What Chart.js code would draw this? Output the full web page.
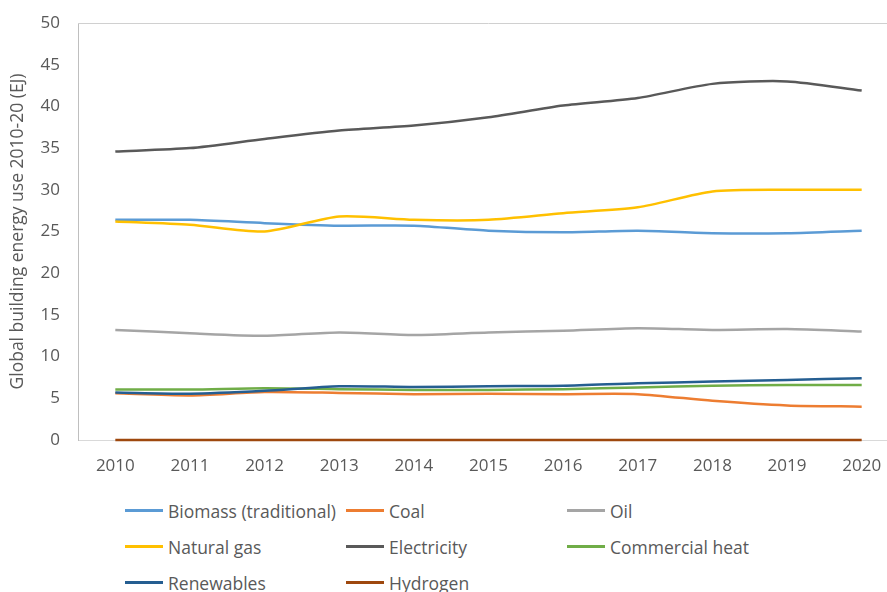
<!DOCTYPE html>
<html>
<head>
<meta charset="utf-8">
<script src="https://cdn.jsdelivr.net/npm/chart.js@4"></script>
<style>
  html, body { margin: 0; padding: 0; background: #fff; overflow: hidden; }
  body { width: 887px; height: 592px; position: relative; }
  #wrap { position: absolute; left: 0; top: 0; width: 900px; height: 480px; }
  #legend {
    position: absolute; left: 125px; top: 499px;
    display: grid; grid-template-columns: 221px 221px 221px; row-gap: 13px;
    font-family: "Open Sans", sans-serif; font-size: 17.5px; color: #595959;
  }
  #legend .item { display: flex; align-items: center; height: 23px; white-space: nowrap; }
  #legend .swatch { width: 38px; height: 3px; margin-right: 5px; }
</style>
</head>
<body>
<div id="wrap"><canvas id="energyChart"></canvas></div>
<div id="legend"></div>
<script>
const years = ['2010', '2011', '2012', '2013', '2014', '2015', '2016', '2017', '2018', '2019', '2020'];

const biomass = [26.4, 26.4, 26.0, 25.7, 25.7, 25.1, 24.9, 25.1, 24.8, 24.8, 25.1];
const coal = [5.6, 5.35, 5.75, 5.65, 5.5, 5.55, 5.5, 5.5, 4.7, 4.15, 4.0];
const oil = [13.2, 12.8, 12.5, 12.9, 12.6, 12.9, 13.1, 13.4, 13.2, 13.3, 13.0];
const naturalGas = [26.2, 25.8, 25.0, 26.8, 26.4, 26.4, 27.2, 27.9, 29.8, 30.0, 30.0];
const electricity = [34.6, 35.0, 36.1, 37.1, 37.7, 38.7, 40.1, 41.0, 42.7, 43.0, 41.9];
const commercialHeat = [6.05, 6.05, 6.2, 6.1, 6.0, 6.0, 6.1, 6.3, 6.5, 6.6, 6.6];
const renewables = [5.7, 5.55, 5.9, 6.45, 6.35, 6.45, 6.5, 6.8, 7.0, 7.2, 7.4];
const hydrogen = [0, 0, 0, 0, 0, 0, 0, 0, 0, 0, 0];

const yTicks = [0, 5, 10, 15, 20, 25, 30, 35, 40, 45, 50];

const series = [
  { label: 'Biomass (traditional)', data: biomass, color: '#5B9BD5' },
  { label: 'Coal', data: coal, color: '#ED7D31' },
  { label: 'Oil', data: oil, color: '#A5A5A5' },
  { label: 'Natural gas', data: naturalGas, color: '#FFC000' },
  { label: 'Electricity', data: electricity, color: '#595959' },
  { label: 'Commercial heat', data: commercialHeat, color: '#70AD47' },
  { label: 'Renewables', data: renewables, color: '#255E91' },
  { label: 'Hydrogen', data: hydrogen, color: '#9E480E' }
];

const fontFamily = '"Open Sans", sans-serif';
const textColor = '#595959';

// thin frame along the top of the plot area
const plotFrame = {
  id: 'plotFrame',
  beforeDatasetsDraw(chart) {
    const { ctx, chartArea } = chart;
    ctx.save();
    ctx.strokeStyle = '#d0d0d0';
    ctx.lineWidth = 1;
    ctx.beginPath();
    ctx.moveTo(chartArea.left, chartArea.top + 0.5);
    ctx.lineTo(chartArea.right, chartArea.top + 0.5);
    ctx.stroke();
    ctx.restore();
  }
};

const chart = new Chart(document.getElementById('energyChart'), {
  type: 'line',
  data: {
    labels: years,
    datasets: series.map(s => ({
      label: s.label,
      data: s.data,
      borderColor: s.color,
      backgroundColor: s.color,
      borderWidth: 2.5,
      pointRadius: 0,
      tension: 0.25,
      fill: false,
      clip: 4
    })).reverse()
  },
  options: {
    responsive: true,
    maintainAspectRatio: false,
    animation: false,
    layout: { padding: { top: 23, right: 1, left: 0, bottom: 0 } },
    plugins: {
      legend: { display: false },
      tooltip: { enabled: false }
    },
    scales: {
      x: {
        offset: true,
        grid: { display: false },
        border: { color: '#d9d9d9', width: 1 },
        ticks: {
          color: textColor,
          font: { family: fontFamily, size: 17 },
          padding: 8,
          maxRotation: 0
        },
        afterFit(scale) { scale.height = 40; }
      },
      y: {
        min: 0,
        max: 50,
        afterBuildTicks(scale) { scale.ticks = yTicks.map(v => ({ value: v })); },
        grid: { display: false },
        border: { color: '#bfbfbf', width: 1 },
        ticks: {
          color: textColor,
          font: { family: fontFamily, size: 17 },
          padding: 10
        },
        title: {
          display: true,
          text: 'Global building energy use 2010-20 (EJ)',
          color: textColor,
          font: { family: fontFamily, size: 17.5 },
          padding: { top: 8, bottom: 0 }
        },
        afterFit(scale) { scale.width = 78; }
      }
    }
  },
  plugins: [plotFrame]
});

// legend in three fixed columns, built from the datasets
const legend = document.getElementById('legend');
series.forEach(s => {
  const item = document.createElement('div');
  item.className = 'item';
  const sw = document.createElement('span');
  sw.className = 'swatch';
  sw.style.background = s.color;
  const txt = document.createElement('span');
  txt.textContent = s.label;
  item.appendChild(sw);
  item.appendChild(txt);
  legend.appendChild(item);
});
</script>
</body>
</html>
